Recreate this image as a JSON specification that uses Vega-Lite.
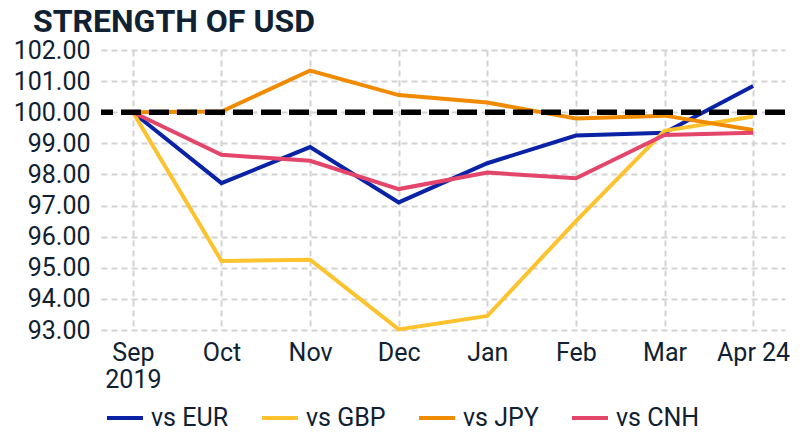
{
  "$schema": "https://vega.github.io/schema/vega-lite/v6.json",
  "width": 684,
  "height": 280,
  "autosize": {"type": "none"},
  "padding": {"left": 101, "top": 50, "right": 15, "bottom": 102},
  "background": "white",
  "title": {
    "text": "STRENGTH OF USD",
    "anchor": "start",
    "frame": "group",
    "dx": -68,
    "offset": -1,
    "font": "Roboto",
    "fontWeight": "bold",
    "fontSize": 32,
    "color": "#0f2132"
  },
  "config": {
    "view": {"stroke": null},
    "font": "Roboto",
    "axis": {
      "title": null,
      "domain": false,
      "ticks": false,
      "grid": true,
      "gridColor": "#d3d3d3",
      "gridDash": [6, 4],
      "gridWidth": 2,
      "labelFont": "Roboto",
      "labelFontSize": 25,
      "labelColor": "#0f2132",
      "labelOverlap": false,
      "labelSeparation": 0
    }
  },
  "data": {
    "values": [
      {"month": "Sep", "series": "vs EUR", "value": 100.0},
      {"month": "Oct", "series": "vs EUR", "value": 97.72},
      {"month": "Nov", "series": "vs EUR", "value": 98.88},
      {"month": "Dec", "series": "vs EUR", "value": 97.1},
      {"month": "Jan", "series": "vs EUR", "value": 98.36},
      {"month": "Feb", "series": "vs EUR", "value": 99.25},
      {"month": "Mar", "series": "vs EUR", "value": 99.34},
      {"month": "Apr 24", "series": "vs EUR", "value": 100.84},
      {"month": "Sep", "series": "vs GBP", "value": 100.0},
      {"month": "Oct", "series": "vs GBP", "value": 95.22},
      {"month": "Nov", "series": "vs GBP", "value": 95.26},
      {"month": "Dec", "series": "vs GBP", "value": 93.02},
      {"month": "Jan", "series": "vs GBP", "value": 93.45},
      {"month": "Feb", "series": "vs GBP", "value": 96.5},
      {"month": "Mar", "series": "vs GBP", "value": 99.4},
      {"month": "Apr 24", "series": "vs GBP", "value": 99.86},
      {"month": "Sep", "series": "vs JPY", "value": 100.0},
      {"month": "Oct", "series": "vs JPY", "value": 100.02},
      {"month": "Nov", "series": "vs JPY", "value": 101.34},
      {"month": "Dec", "series": "vs JPY", "value": 100.55},
      {"month": "Jan", "series": "vs JPY", "value": 100.31},
      {"month": "Feb", "series": "vs JPY", "value": 99.8},
      {"month": "Mar", "series": "vs JPY", "value": 99.89},
      {"month": "Apr 24", "series": "vs JPY", "value": 99.43},
      {"month": "Sep", "series": "vs CNH", "value": 100.0},
      {"month": "Oct", "series": "vs CNH", "value": 98.63},
      {"month": "Nov", "series": "vs CNH", "value": 98.44},
      {"month": "Dec", "series": "vs CNH", "value": 97.53},
      {"month": "Jan", "series": "vs CNH", "value": 98.06},
      {"month": "Feb", "series": "vs CNH", "value": 97.88},
      {"month": "Mar", "series": "vs CNH", "value": 99.27},
      {"month": "Apr 24", "series": "vs CNH", "value": 99.34}
    ]
  },
  "encoding": {
    "y": {
      "field": "value",
      "type": "quantitative",
      "scale": {"domain": [93, 102], "nice": false, "zero": false},
      "axis": {
        "values": [93, 94, 95, 96, 97, 98, 99, 100, 101, 102],
        "format": ".2f",
        "labelPadding": 11,
        "labelOverlap": false
      }
    }
  },
  "layer": [
    {
      "mark": {"type": "line", "strokeWidth": 4, "strokeJoin": "miter"},
      "encoding": {
        "x": {
          "field": "month",
          "type": "ordinal",
          "sort": ["Sep", "Oct", "Nov", "Dec", "Jan", "Feb", "Mar", "Apr 24"],
          "scale": {"type": "point", "padding": 0.36},
          "axis": {
            "labelAngle": 0,
            "labelPadding": 10,
            "labelLineHeight": 27,
            "labelExpr": "datum.value == 'Sep' ? ['Sep', '2019'] : datum.value"
          }
        },
        "color": {
          "field": "series",
          "type": "nominal",
          "scale": {
            "domain": ["vs EUR", "vs GBP", "vs JPY", "vs CNH"],
            "range": ["#0a23a6", "#fcc32e", "#f08b00", "#e3456b"]
          },
          "legend": {
            "title": null,
            "orient": "none",
            "direction": "horizontal",
            "legendX": 4,
            "legendY": 348,
            "symbolType": "stroke",
            "symbolSize": 1296,
            "symbolStrokeWidth": 4,
            "labelFont": "Roboto",
            "labelFontSize": 25,
            "labelColor": "#0f2132",
            "labelOffset": 6,
            "columnPadding": 25,
            "labelLimit": 200
          }
        }
      }
    },
    {
      "data": {"values": [{"value": 100}]},
      "mark": {"type": "rule", "color": "#000000", "strokeWidth": 5.5, "strokeDash": [20, 8]},
      "encoding": {}
    }
  ]
}
